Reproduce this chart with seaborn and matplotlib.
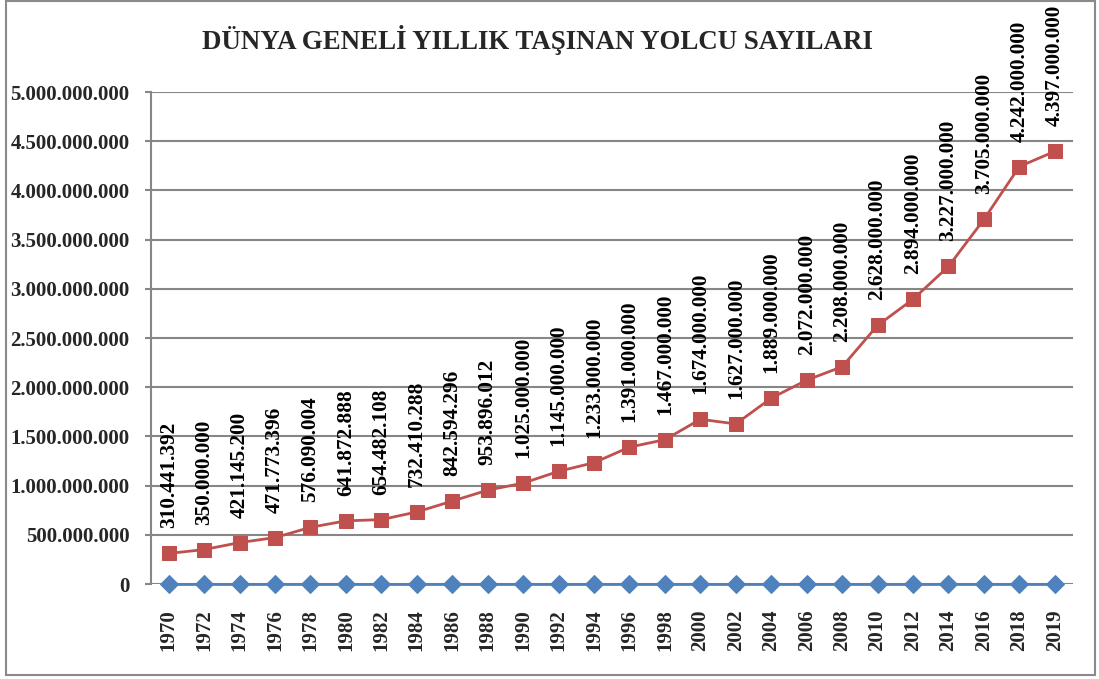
import matplotlib
matplotlib.use("Agg")
import matplotlib.pyplot as plt
import seaborn as sns
import pandas as pd
from matplotlib.patches import Rectangle

years = ["1970", "1972", "1974", "1976", "1978", "1980", "1982", "1984", "1986", "1988",
         "1990", "1992", "1994", "1996", "1998", "2000", "2002", "2004", "2006", "2008",
         "2010", "2012", "2014", "2016", "2018", "2019"]
passengers = [310441392, 350000000, 421145200, 471773396, 576090004, 641872888,
              654482108, 732410288, 842594296, 953896012, 1025000000, 1145000000,
              1233000000, 1391000000, 1467000000, 1674000000, 1627000000, 1889000000,
              2072000000, 2208000000, 2628000000, 2894000000, 3227000000, 3705000000,
              4242000000, 4397000000]
baseline = [0] * len(years)
title = "DÜNYA GENELİ YILLIK TAŞINAN YOLCU SAYILARI"

sns.set_theme(style="white")
plt.rcParams['font.family'] = ['Liberation Serif', 'DejaVu Serif']
plt.rcParams['font.weight'] = 'bold'

def fmt(v):
    return f"{int(v):,}".replace(",", ".")

df = pd.DataFrame({"year": years, "passengers": passengers, "baseline": baseline})

fig = plt.figure(figsize=(10.99, 6.79), dpi=100)
ax = fig.add_axes([0.1374, 0.1399, 0.9759 - 0.1374, 0.8645 - 0.1399])

grid_c = "#868686"
ax.set_ylim(0, 5_000_000_000)
ax.set_yticks(range(0, 5_000_000_001, 500_000_000))
ax.yaxis.grid(True, color=grid_c, linewidth=1.5)
ax.set_axisbelow(True)

sns.lineplot(data=df, x="year", y="baseline", ax=ax, color="#4F81BD", linewidth=2,
             marker="D", markersize=9, markeredgecolor="#4F81BD", sort=False)
sns.lineplot(data=df, x="year", y="passengers", ax=ax, color="#C0504D", linewidth=2,
             marker="s", markersize=10, markeredgecolor="#C0504D", sort=False)
for ln in ax.lines:
    ln.set_clip_on(False)

ax.set_xlim(-0.5, len(years) - 0.5)
ax.set_xlabel("")
ax.set_ylabel("")

for i, v in enumerate(passengers):
    ax.annotate(fmt(v), (i, v), xytext=(0, 18), textcoords="offset points",
                rotation=90, ha="center", va="bottom", fontsize=15.3, fontweight="bold",
                color="black")

ax.set_yticklabels([fmt(t) for t in ax.get_yticks()], fontsize=15, fontweight="bold")
ax.set_xticks(range(len(years)))
ax.set_xticklabels(years, rotation=90, fontsize=15, fontweight="bold", va="top")
ax.tick_params(axis="y", length=4.5, width=1.5, color=grid_c, pad=11, left=True)
ax.tick_params(axis="x", length=0, pad=18)

for s in ["top", "right", "bottom"]:
    ax.spines[s].set_visible(False)
ax.spines["left"].set_color(grid_c)
ax.spines["left"].set_linewidth(1.5)

fig.text(0.489, 0.941, title, ha="center", va="center", fontsize=19.4, fontweight="bold")

fig.patches.append(Rectangle((6 / 1099, 4 / 679), (1095 - 6) / 1099, (679 - 4) / 679 - 0.002,
                             transform=fig.transFigure, fill=False, edgecolor="#8a8a8a",
                             linewidth=1.5))

fig.savefig("out.png", dpi=100)
